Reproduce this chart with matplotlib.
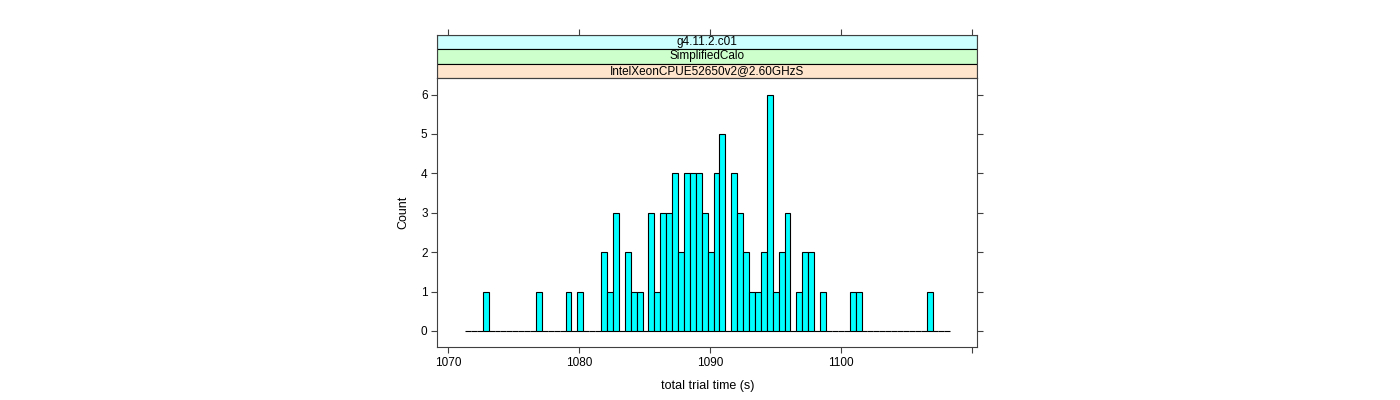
import numpy as np
import matplotlib
matplotlib.use("Agg")
import matplotlib.pyplot as plt
from matplotlib.patches import Rectangle

plt.rcParams['font.family'] = ['Liberation Sans', 'DejaVu Sans']

# histogram breaks (first and last edge) and counts per bin
break_lo = 1071.27
break_hi = 1108.32
counts = [0, 0, 0, 1, 0, 0, 0, 0, 0, 0,
          0, 0, 1, 0, 0, 0, 0, 1, 0, 1,
          0, 0, 0, 2, 1, 3, 0, 2, 1, 1,
          0, 3, 1, 3, 3, 4, 2, 4, 4, 4,
          3, 2, 4, 5, 0, 4, 3, 2, 1, 1,
          2, 6, 1, 2, 3, 0, 1, 2, 2, 0,
          1, 0, 0, 0, 0, 1, 1, 0, 0, 0,
          0, 0, 0, 0, 0, 0, 0, 0, 1, 0,
          0, 0]
strip_labels = ["g4.11.2.c01", "SimplifiedCalo", "IntelXeonCPUE52650v2@2.60GHzS"]
strip_colors = ["#ccffff", "#ccffcc", "#ffe5cc"]
xticks = [1070, 1080, 1090, 1100, 1110]
xticklabels = ["1070", "1080", "1090", "1100", ""]
yticks = [0, 1, 2, 3, 4, 5, 6]

edges = np.linspace(break_lo, break_hi, len(counts) + 1)
W, H = 1400, 400
left, right, top, bottom = 437.3, 977.3, 78, 347.3
xlim = (1069.16, 1110.38)
frame = "#404040"

fig = plt.figure(figsize=(14, 4), dpi=100)
ax = fig.add_axes([left / W, 1 - bottom / H, (right - left) / W, (bottom - top) / H])
ax.bar(edges[:-1], counts, width=np.diff(edges), align="edge",
       color="#00ffff", edgecolor="black", linewidth=0.8)
ax.set_xlim(*xlim)
ax.set_ylim(-0.414, 6.42)
ax.set_xticks(xticks)
ax.set_xticklabels(xticklabels)
ax.set_yticks(yticks)
ax.tick_params(direction="out", length=4, width=0.8, color=frame,
               labelsize=8.5, right=True, top=False, pad=3)
for s in ax.spines.values():
    s.set_color(frame)
    s.set_linewidth(0.8)
ax.set_xlabel("total trial time (s)", fontsize=9, labelpad=8)
ax.set_ylabel("Count", fontsize=9, labelpad=8)

# strips above the panel
sax = fig.add_axes([left / W, 1 - top / H, (right - left) / W, (top - 34.7) / H])
sax.set_xlim(*xlim)
sax.set_ylim(0, 3)
for i, (lab, col) in enumerate(zip(strip_labels, strip_colors)):
    y0 = 2 - i
    sax.add_patch(Rectangle((xlim[0], y0), xlim[1] - xlim[0], 1,
                            facecolor=col, edgecolor="black", linewidth=0.8))
    sax.text(sum(xlim) / 2, y0 + 0.5, lab, ha="center", va="center", fontsize=8.5)
sax.set_xticks(xticks)
sax.set_yticks([])
sax.tick_params(axis="x", direction="out", length=4, width=0.8, color=frame,
                top=True, bottom=False, labeltop=False, labelbottom=False)
for s in sax.spines.values():
    s.set_color(frame)
    s.set_linewidth(0.8)

fig.savefig("out.png", dpi=100)
